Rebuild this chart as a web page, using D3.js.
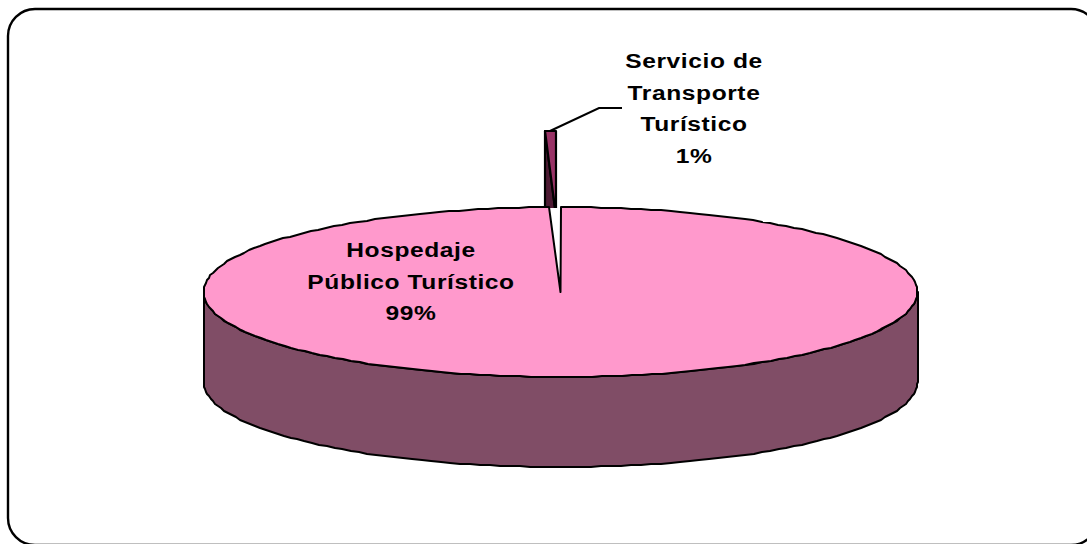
<!DOCTYPE html>
<html>
<head>
<meta charset="utf-8">
<script src="https://cdn.jsdelivr.net/npm/d3@7"></script>
<style>
  html, body { margin: 0; padding: 0; background: #ffffff; overflow: hidden; }
</style>
</head>
<body>
<div id="my_pie"></div>
<script>
// Values
const categories = ["Hospedaje Público Turístico", "Servicio de Transporte Turístico"];
const values = [99.49, 0.51];
const labelLines = [["Hospedaje", "Público Turístico"], ["Servicio de", "Transporte", "Turístico"]];
const topColors = ["#FF99CC", "#993366"];
const sideColors = ["#804D66", "#4D1A33"];

var width = 1087, height = 544;

// Pie geometry (an ellipse plus a side band for the 3D look)
var cx = 560.5, cy = 292, rx = 357, ry = 85, depth = 90;
var explode = {dx: -4.5, dy: -76};
var labelPos = [{x: 411, y: 257}, {x: 694, y: 68}];
var lineHeight = 31.7;
var textStretch = 1.17; // the original text is wider than it is tall

var svg = d3.select("#my_pie")
  .append("svg")
    .attr("width", width)
    .attr("height", height)
    .style("display", "block");

// Frame, it runs past the right and bottom of the picture
svg.append("rect")
    .attr("x", 8)
    .attr("y", 9)
    .attr("width", 1090)
    .attr("height", 536)
    .attr("rx", 27)
    .attr("fill", "#ffffff")
    .attr("stroke", "#000000")
    .attr("stroke-width", 2.4);

var arcs = d3.pie().sort(null)(values);
var percent = d3.format(".0%");
var total = d3.sum(values);

// Point on the rim, rounded to whole pixels so the outline stays rough like the original
function rim(angle, dx, dy) {
    return [Math.round(cx + dx + rx * Math.sin(angle)), Math.round(cy + dy - ry * Math.cos(angle))];
}

function rimPoints(a0, a1, dx, dy) {
    var n = Math.max(2, Math.ceil((a1 - a0) / (Math.PI / 110)));
    return d3.range(n + 1).map(function(i) {
        return rim(a0 + (a1 - a0) * i / n, dx, dy);
    });
}

var line = d3.line();

// Exploded slice goes first, the big one covers its lower part
var clip = svg.append("clipPath").attr("id", "above_pie");
clip.append("rect")
    .attr("x", 0)
    .attr("y", 0)
    .attr("width", width)
    .attr("height", cy - ry + 1);

var slice = arcs[1];
var sliceGroup = svg.append("g").attr("clip-path", "url(#above_pie)");
var apex = [cx + explode.dx, cy + explode.dy];
var sliceLeft = rim(slice.startAngle, explode.dx, explode.dy);

// cut face of the slice
sliceGroup.append("path")
    .attr("d", line([sliceLeft, apex, [apex[0], apex[1] + depth], [sliceLeft[0], sliceLeft[1] + depth]]) + "Z")
    .attr("fill", sideColors[1])
    .attr("stroke", "#000000")
    .attr("stroke-width", 2.2)
    .attr("stroke-linejoin", "round");

// top of the slice
sliceGroup.append("path")
    .attr("d", line([apex].concat(rimPoints(slice.startAngle, slice.endAngle, explode.dx, explode.dy))) + "Z")
    .attr("fill", topColors[1])
    .attr("stroke", "#000000")
    .attr("stroke-width", 2.2)
    .attr("stroke-linejoin", "round");

// Side band of the big slice
var main = arcs[0];
var front = rimPoints(Math.PI / 2, Math.PI * 1.5, 0, 0);
var frontBottom = front.map(function(p) { return [p[0], p[1] + depth]; }).reverse();

svg.append("path")
    .attr("d", line(front.concat(frontBottom)) + "Z")
    .attr("fill", sideColors[0])
    .attr("stroke", "#000000")
    .attr("stroke-width", 2)
    .attr("stroke-linejoin", "round");

// Top of the big slice
svg.append("path")
    .attr("d", line([[cx, cy]].concat(rimPoints(main.startAngle, main.endAngle, 0, 0))) + "Z")
    .attr("fill", topColors[0])
    .attr("stroke", "#000000")
    .attr("stroke-width", 2)
    .attr("stroke-linejoin", "round");

// Leader line of the small slice
var leaderStart = rim((slice.startAngle + slice.endAngle) / 2, explode.dx, explode.dy);
svg.append("path")
    .attr("d", line([leaderStart, [leaderStart[0] + 49, leaderStart[1] - 23], [leaderStart[0] + 72, leaderStart[1] - 23]]))
    .attr("fill", "none")
    .attr("stroke", "#000000")
    .attr("stroke-width", 2);

// Labels
arcs.forEach(function(d, i) {
    var lines = labelLines[i].concat([percent(d.value / total)]);
    var text = svg.append("text")
        .attr("transform", "translate(" + labelPos[i].x + ",0) scale(" + textStretch + ",1)")
        .attr("text-anchor", "middle")
        .style("font-family", "'Liberation Sans', Arial, sans-serif")
        .style("font-weight", 700)
        .style("font-size", "21px")
        .style("letter-spacing", "0.5px")
        .attr("fill", "#000000");

    text.selectAll("tspan")
        .data(lines)
        .enter()
        .append("tspan")
        .attr("x", 0)
        .attr("y", function(l, j) { return labelPos[i].y + j * lineHeight; })
        .text(function(l) { return l; });
});
</script>
</body>
</html>
